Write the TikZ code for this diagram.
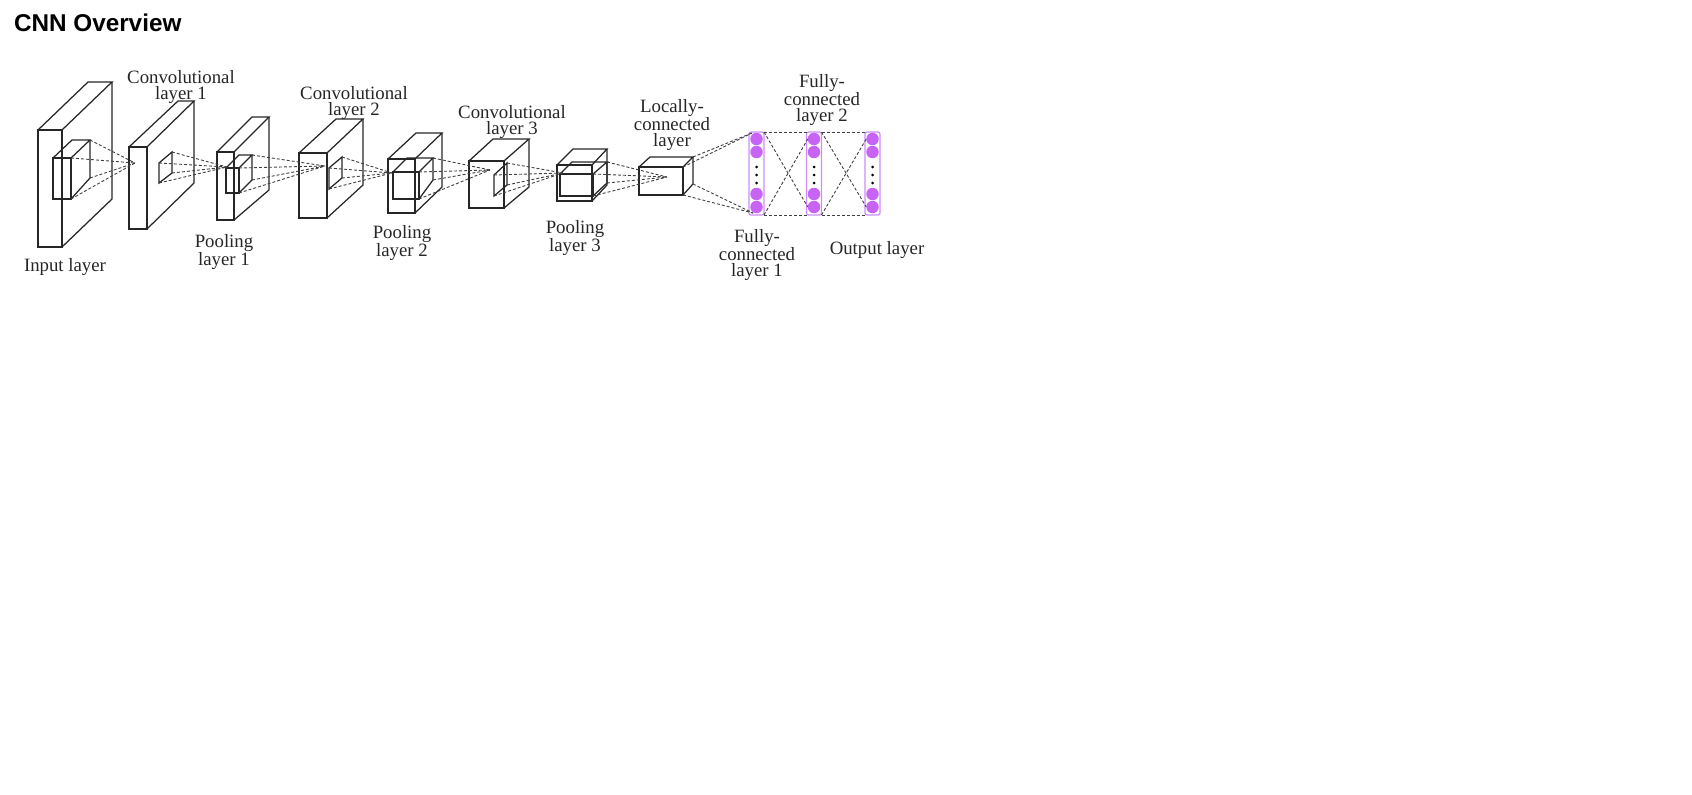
\documentclass[tikz,border=0pt]{standalone}
\usepackage{fontspec}
\setmainfont{Liberation Serif}
\newfontfamily\titlefont{Liberation Sans}
\definecolor{neuronfill}{RGB}{200,100,245}
\definecolor{fcedge}{RGB}{205,140,250}
\tikzset{
	every node/.style={inner sep=0pt,outer sep=0pt},
	solidline/.style={line width=1.25pt,black!85},
	dashline/.style={line width=0.9pt,black!75,dash pattern=on 3pt off 2pt},
	lbl/.style={align=center,font=\fontsize{18.8}{16.4}\selectfont,text=black!85},
	fcbox/.style={draw=fcedge,line width=1.2pt,rounded corners=2pt,minimum width=15pt,minimum height=83pt},
	neuron/.style={circle,fill=neuronfill,minimum size=12.5pt},
	blackdot/.style={circle,fill=black,minimum size=3pt}
}
\begin{document}
\begin{tikzpicture}[x=1pt,y=-1pt]
	\useasboundingbox (0,0) rectangle (1692,795);
	\node[anchor=west,font=\titlefont\bfseries\fontsize{24.3}{24}\selectfont] (title) at (14,23) {CNN Overview};
	% cuboids: name/front x1/x2/y1/y2/back x1/x2/y1/y2
	\foreach \n/\xa/\xb/\ya/\yb/\xc/\xd/\yc/\yd in {
		input/38/62/130/247/88/112/82/199,
		inputs/53/71/158/199/72/90/140/178,
		convi/129/147/147/229/178/194/101/183,
		pooli/217/234/152/220/252/269/117/190,
		poolis/226/239/168/193/239/252/155/180,
		convii/299/327/153/218/336/363/119/185,
		poolii/388/415/159/213/416/442/133/187,
		pooliis/393/419/172/199/407/433/158/180,
		conviii/469/504/161/208/493/529/139/187,
		pooliii/557/592/165/201/573/607/149/185,
		pooliiis/560/593/174/196/572/607/162/183,
		local/639/683/167/195/650/693/157/184}{
		\coordinate (\n-a) at (\xa,\ya);
		\coordinate (\n-b) at (\xb,\ya);
		\coordinate (\n-c) at (\xb,\yb);
		\coordinate (\n-d) at (\xa,\yb);
		\coordinate (\n-e) at (\xc,\yc);
		\coordinate (\n-f) at (\xd,\yc);
		\coordinate (\n-g) at (\xd,\yd);
		\draw[solidline] (\n-a) -- (\n-b) -- (\n-c) -- (\n-d) -- cycle;
		\draw[solidline] (\n-a) -- (\n-e) -- (\n-f) -- (\n-b);
		\draw[solidline] (\n-f) -- (\n-g) -- (\n-c);
	}
	% receptive fields on the convolutional layers
	\foreach \n/\xa/\xb/\ya/\yb/\yc/\yd in {
		convis/159/172/163/152/173/183,
		conviis/329/342/168/157/178/189,
		conviiis/494/507/175/163/185/196}{
		\coordinate (\n-b) at (\xa,\ya);
		\coordinate (\n-f) at (\xb,\yb);
		\coordinate (\n-g) at (\xb,\yc);
		\coordinate (\n-c) at (\xa,\yd);
		\draw[solidline] (\n-b) -- (\n-f) -- (\n-g) -- (\n-c) -- cycle;
	}
	% tips of the dashed fans
	\coordinate (tipa) at (135,163);
	\coordinate (tipb) at (227,167);
	\coordinate (tipc) at (325,166);
	\coordinate (tipd) at (392,173);
	\coordinate (tipe) at (490,170);
	\coordinate (tipf) at (563,173);
	\coordinate (tipg) at (667,177);
	\foreach \n/\t in {inputs/tipa,convis/tipb,poolis/tipc,conviis/tipd,pooliis/tipe,conviiis/tipf,pooliiis/tipg}{
		\foreach \c in {b,c,f,g}{
			\draw[dashline] (\n-\c) -- (\t);
		}
	}
	% fully connected columns
	\foreach \n/\x in {fca/756.5,fcb/814,fcc/872.5}{
		\node[fcbox] (\n) at (\x,173.5) {};
		\node[neuron] (\n-p) at (\x,139) {};
		\node[neuron] (\n-q) at (\x,152) {};
		\node[blackdot] (\n-r) at (\x,167) {};
		\node[blackdot] (\n-s) at (\x,175) {};
		\node[blackdot] (\n-t) at (\x,183) {};
		\node[neuron] (\n-u) at (\x,194) {};
		\node[neuron] (\n-v) at (\x,207) {};
	}
	\coordinate (fcain) at (752,133);
	\coordinate (fcaout) at (753,213);
	\path[dashline]
	% into the first column
	(local-f) edge (fcain)
	(local-b) edge (fcain)
	(local-g) edge (fcaout)
	(local-c) edge (fcaout)
	% horizontal lines
	(fca.north east) edge (fcb.north west)
	(fca.south east) edge (fcb.south west)
	(fcb.north east) edge (fcc.north west)
	(fcb.south east) edge (fcc.south west)
	% crossing lines
	(fca.north east) edge (fcb-v.west)
	(fca.south east) edge (fcb-p.west)
	(fcb.north east) edge (fcc-v.west)
	(fcb.south east) edge (fcc-p.west);
	% labels
	\node[lbl] (linput) at (65,267.5) {Input layer};
	\node[lbl] (lconvi) at (181,87) {Convolutional\\layer 1};
	\node[lbl] (lpooli) at (224,252) {Pooling\\layer 1};
	\node[lbl] (lconvii) at (354,103) {Convolutional\\layer 2};
	\node[lbl] (lpoolii) at (402,243) {Pooling\\layer 2};
	\node[lbl] (lconviii) at (512,122) {Convolutional\\layer 3};
	\node[lbl] (lpooliii) at (575,238) {Pooling\\layer 3};
	\node[lbl] (llocal) at (672,125) {Locally-\\connected\\layer};
	\node[lbl] (lfca) at (757,255) {Fully-\\connected\\layer 1};
	\node[lbl] (lfcb) at (822,100) {Fully-\\connected\\layer 2};
	\node[lbl] (loutput) at (877,250.5) {Output layer};
\end{tikzpicture}
\end{document}
